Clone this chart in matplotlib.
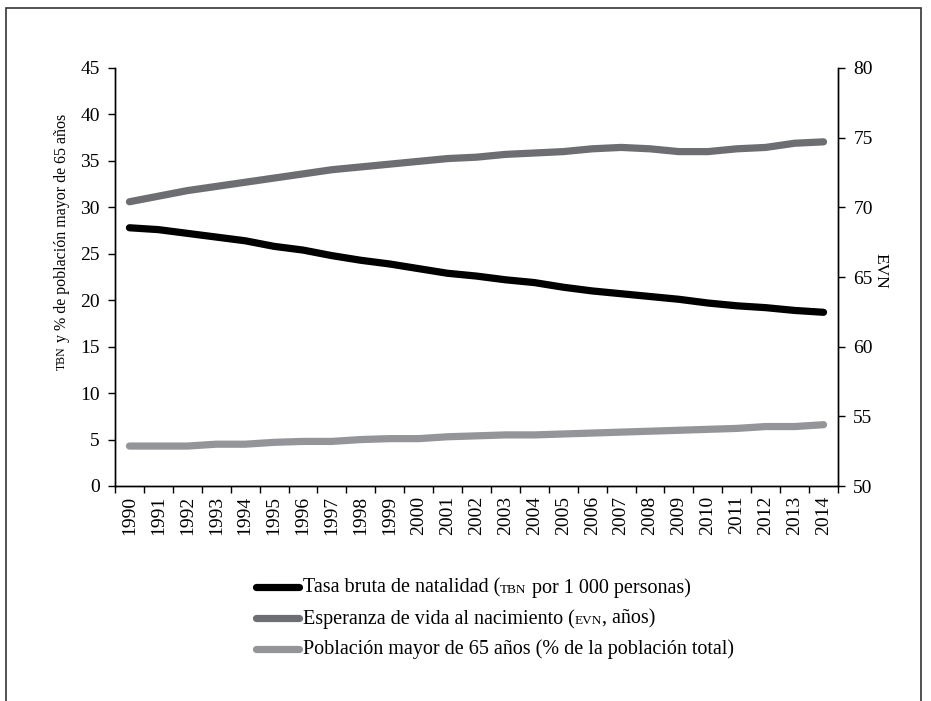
import numpy as np
import matplotlib
matplotlib.use("Agg")
import matplotlib.pyplot as plt
from matplotlib.lines import Line2D
from matplotlib.patches import Rectangle
from matplotlib.offsetbox import (AnchoredOffsetbox, DrawingArea, HPacker,
                                  TextArea, VPacker)

# datos
years = [str(y) for y in range(1990, 2015)]
tbn = [27.8, 27.6, 27.2, 26.8, 26.4, 25.8, 25.4, 24.8, 24.3, 23.9,
       23.4, 22.9, 22.6, 22.2, 21.9, 21.4, 21.0, 20.7, 20.4, 20.1,
       19.7, 19.4, 19.2, 18.9, 18.7]
evn = [70.4, 70.8, 71.2, 71.5, 71.8, 72.1, 72.4, 72.7, 72.9, 73.1,
       73.3, 73.5, 73.6, 73.8, 73.9, 74.0, 74.2, 74.3, 74.2, 74.0,
       74.0, 74.2, 74.3, 74.6, 74.7]
pob65 = [4.3, 4.3, 4.3, 4.5, 4.5, 4.7, 4.8, 4.8, 5.0, 5.1,
         5.1, 5.3, 5.4, 5.5, 5.5, 5.6, 5.7, 5.8, 5.9, 6.0,
         6.1, 6.2, 6.4, 6.4, 6.6]

C_TBN = "#000000"
C_EVN = "#6d6e71"
C_POB = "#939598"

SERIF = ["Liberation Serif", "DejaVu Serif"]
plt.rcParams["font.family"] = SERIF
FS = 14
SC = 9.5  # versalitas

W, H = 931, 701
fig = plt.figure(figsize=(W / 100, H / 100), dpi=100)
ax = fig.add_axes([115 / W, 1 - 486 / H, (838 - 115) / W, (486 - 68) / H])
ax2 = ax.twinx()

x = np.arange(len(years))
lw = 5.2
ax.plot(x, tbn, color=C_TBN, lw=lw, solid_capstyle="round", zorder=3)
ax.plot(x, pob65, color=C_POB, lw=lw, solid_capstyle="round", zorder=3)
ax2.plot(x, evn, color=C_EVN, lw=lw, solid_capstyle="round", zorder=3)

ax.set_xlim(-0.5, len(years) - 0.5)
ax.set_ylim(0, 45)
ax2.set_ylim(50, 80)
ax.set_yticks(range(0, 46, 5))
ax2.set_yticks(range(50, 81, 5))

ax.set_xticks(np.arange(-0.5, len(years), 1))
ax.set_xticklabels([])
ax.set_xticks(x, minor=True)
ax.set_xticklabels(years, minor=True, rotation=90, fontsize=FS)
ax.tick_params(axis="x", which="major", direction="out", length=5, width=1)
ax.tick_params(axis="x", which="minor", length=0, pad=7)
ax.tick_params(axis="y", direction="out", length=5, width=1, labelsize=FS, pad=6)
ax2.tick_params(axis="y", direction="out", length=5, width=1, labelsize=FS, pad=6)

for a in (ax, ax2):
    a.spines["top"].set_visible(False)
    for s in ("left", "right", "bottom"):
        a.spines[s].set_linewidth(1)

# etiqueta eje izquierdo (con versalitas)
renderer = fig.canvas.get_renderer()
lx = 62 / W
t1 = fig.text(lx, 1 - 370 / H, "TBN", rotation=90, fontsize=8.5,
              family=SERIF, ha="center", va="bottom")
bb = t1.get_window_extent(renderer=renderer)
fig.text(lx, (bb.y1 + 4) / H, "y % de población mayor de 65 años",
         rotation=90, fontsize=11.5, family=SERIF, ha="center", va="bottom")

# etiqueta eje derecho
fig.text(880 / W, 1 - 271 / H, "EVN", rotation=270, fontsize=12.5,
         family=SERIF, ha="center", va="center")

# leyenda
LFS = 14.5
entries = [
    (C_TBN, ["Tasa bruta de natalidad (", "TBN", " por 1 000 personas)"]),
    (C_EVN, ["Esperanza de vida al nacimiento (", "EVN", ", años)"]),
    (C_POB, ["Población mayor de 65 años (% de la población total)"]),
]
rows = []
for color, parts in entries:
    da = DrawingArea(38, 8, 0, 0)
    da.add_artist(Line2D([4, 35], [4, 4], color=color, lw=lw,
                         solid_capstyle="round"))
    boxes = [da]
    for i, p in enumerate(parts):
        fs = SC if i == 1 else LFS
        boxes.append(TextArea(p, textprops=dict(fontsize=fs, family=SERIF)))
    rows.append(HPacker(children=boxes, align="baseline", pad=0, sep=0))
leg = VPacker(children=rows, align="left", pad=0, sep=8)
anch = AnchoredOffsetbox(loc="upper left", child=leg, pad=0, borderpad=0,
                         frameon=False,
                         bbox_to_anchor=(250 / W, 1 - 578 / H),
                         bbox_transform=fig.transFigure)
fig.add_artist(anch)

# marco exterior
fig.add_artist(Rectangle((6 / W, -0.05), (921 - 6) / W, 1.05 - 8 / H,
                         transform=fig.transFigure, fill=False,
                         edgecolor="#333333", lw=1.2, clip_on=False))

fig.savefig("out.png", dpi=100)
